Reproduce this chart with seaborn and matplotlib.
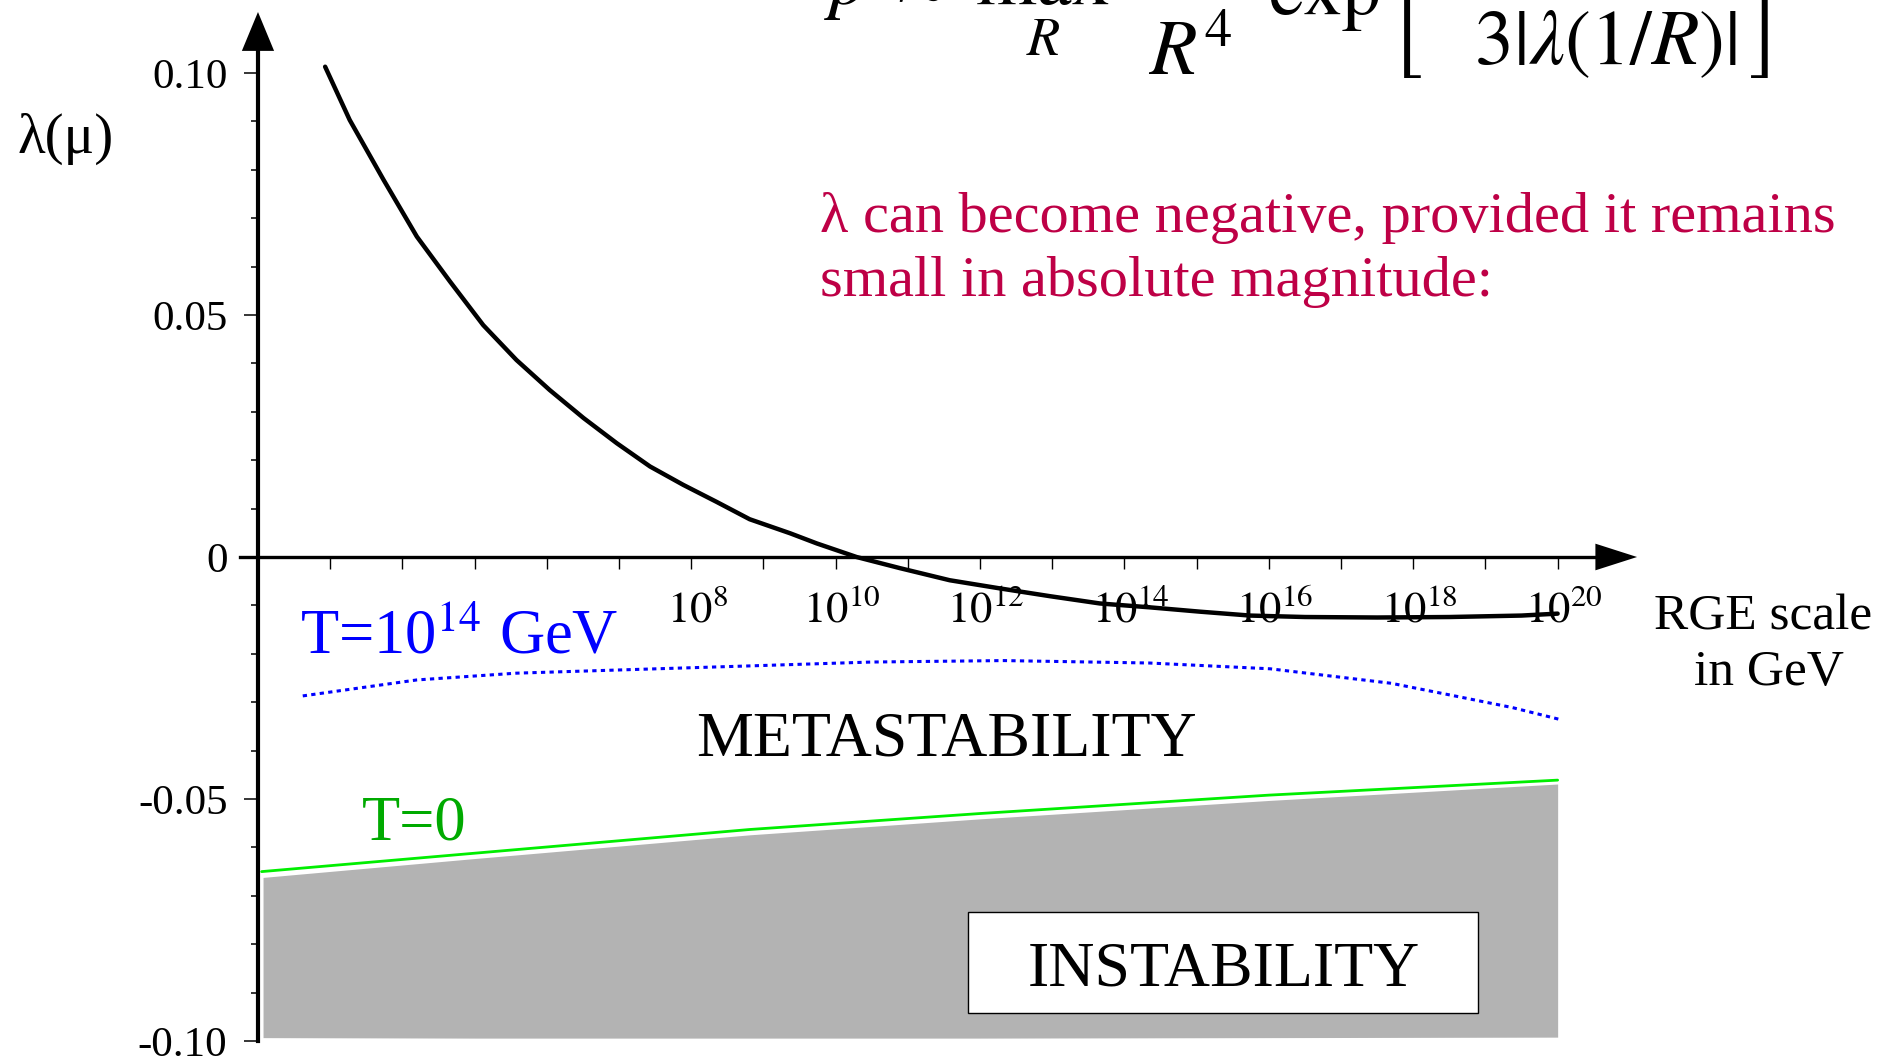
import matplotlib
matplotlib.use('Agg')
import matplotlib.pyplot as plt
import matplotlib.transforms as mtransforms
from matplotlib.patches import Rectangle
import seaborn as sns

# x values are log10 of the RGE scale in GeV
lam_logmu = [2.93, 3.27, 3.74, 4.20, 4.66, 5.12, 5.58, 6.04, 6.51, 6.97, 7.43, 7.89, 8.35,
             8.81, 9.37, 9.74, 10.29, 10.89, 11.58, 12.28, 12.97, 13.66, 14.35, 15.05, 15.74,
             16.5, 17.5, 18.5, 19.5, 20.0]
lam_vals = [0.1013, 0.0903, 0.0779, 0.0662, 0.0569, 0.0479, 0.0407, 0.0345, 0.0287, 0.0235,
            0.0187, 0.0149, 0.0114, 0.0078, 0.0049, 0.0028, 0.0, -0.0023, -0.0048, -0.0065,
            -0.0081, -0.0096, -0.0104, -0.0113, -0.0121, -0.0124, -0.0125, -0.0124, -0.0121,
            -0.0117]

t14_logmu = [2.62, 4.2, 5.58, 8.81, 10.5, 12.33, 14.34, 16.02, 17.7, 18.54, 19.37, 20.04]
t14_vals = [-0.0287, -0.0254, -0.0240, -0.0225, -0.0217, -0.0214, -0.0219, -0.0231, -0.0261,
            -0.0286, -0.0311, -0.0336]

t0_logmu = [2.05, 5.0, 8.81, 12.0, 16.0, 20.0]
t0_vals = [-0.0650, -0.0612, -0.0563, -0.0530, -0.0492, -0.0461]

instab_logmu = [2.07, 5.0, 8.81, 12.0, 16.0, 20.0]
instab_top = [-0.0662, -0.0623, -0.0574, -0.0541, -0.0503, -0.0469]
instab_bottom = [-0.0993, -0.0994, -0.0994, -0.0994, -0.0993, -0.0992]

x_tick_pos = [2, 3, 4, 5, 6, 7, 8, 9, 10, 11, 12, 13, 14, 15, 16, 17, 18, 19, 20]
x_tick_labels = ['', '', '', '', '', '', r'$10^{8}$', '', r'$10^{10}$', '', r'$10^{12}$', '',
                 r'$10^{14}$', '', r'$10^{16}$', '', r'$10^{18}$', '', r'$10^{20}$']
y_tick_pos = [-0.10, -0.05, 0.0, 0.05, 0.10]
y_tick_labels = ['-0.10', '-0.05', '0', '0.05', '0.10']
y_minor_pos = [-0.09, -0.08, -0.07, -0.06, -0.04, -0.03, -0.02, -0.01,
               0.01, 0.02, 0.03, 0.04, 0.06, 0.07, 0.08, 0.09]

W, H = 1897, 1058

sns.set_theme(style='white')
plt.rcParams['font.family'] = ['Liberation Serif', 'DejaVu Serif']
plt.rcParams['mathtext.fontset'] = 'stix'


def fpos(px, py):
    return px / W, 1 - py / H


fig = plt.figure(figsize=(W / 100, H / 100), dpi=100)
ax = fig.add_axes([0, 0, 1, 1])
ax.set_facecolor('white')
ax.set_xlim(-1.573, 24.70)
ax.set_ylim(-0.10351, 0.11508)

# instability region and the curves
ax.fill_between(instab_logmu, instab_top, instab_bottom, color='#b3b3b3', lw=0, zorder=1)
sns.lineplot(x=t0_logmu, y=t0_vals, ax=ax, color='#00ee00', linewidth=2.0,
             sort=False, estimator=None, zorder=3)
sns.lineplot(x=t14_logmu, y=t14_vals, ax=ax, color='#0000ff', linewidth=2.2,
             linestyle=(0, (1.4, 1.4)), sort=False, estimator=None, zorder=3)
sns.lineplot(x=lam_logmu, y=lam_vals, ax=ax, color='black', linewidth=3.2,
             sort=False, estimator=None, zorder=4)

# axes through the origin
for s in ['top', 'right']:
    ax.spines[s].set_visible(False)
ax.spines['left'].set_position(('data', 2))
ax.spines['bottom'].set_position(('data', 0))
ax.spines['left'].set_bounds(-0.10, 0.105)
ax.spines['bottom'].set_bounds(1.75, 20.6)
ax.spines['left'].set_linewidth(3.0)
ax.spines['bottom'].set_linewidth(2.4)
ax.spines['left'].set_color('black')
ax.spines['bottom'].set_color('black')
ax.set_xlabel('')
ax.set_ylabel('')

ax.set_xticks(x_tick_pos)
ax.set_xticklabels(x_tick_labels, fontsize=32)
ax.set_yticks(y_tick_pos)
ax.set_yticklabels(y_tick_labels, fontsize=31)
ax.set_yticks(y_minor_pos, minor=True)
ax.tick_params(axis='x', which='major', bottom=True, direction='out', length=8.6, width=1.0,
               color='black', pad=15, labelcolor='black')
ax.tick_params(axis='y', which='major', left=True, direction='out', length=10, width=1.1,
               color='black', pad=12, labelcolor='black')
ax.tick_params(axis='y', which='minor', left=True, direction='out', length=5, width=1.1,
               color='black')
shift = mtransforms.ScaledTranslation(6 / 100, 0, fig.dpi_scale_trans)
for lab in ax.get_xticklabels():
    lab.set_transform(lab.get_transform() + shift)

# arrow heads
ax.annotate('', xy=(2, 0.1126), xytext=(2, 0.104),
            arrowprops=dict(arrowstyle='-|>,head_length=1.4,head_width=0.58',
                            mutation_scale=20, color='black', lw=0, shrinkA=0, shrinkB=0))
ax.annotate('', xy=(21.1, 0), xytext=(20.5, 0),
            arrowprops=dict(arrowstyle='-|>,head_length=1.5,head_width=0.48',
                            mutation_scale=20, color='black', lw=0, shrinkA=0, shrinkB=0))

# labels
fig.text(*fpos(66, 139), 'λ(μ)', fontsize=41, ha='center', va='center', color='black')
fig.text(*fpos(1763, 629), 'RGE scale', fontsize=37, ha='center', va='baseline', color='black')
fig.text(*fpos(1769, 685), 'in GeV', fontsize=37, ha='center', va='baseline', color='black')

red = '#be0046'
fig.text(*fpos(820, 232), 'λ can become negative, provided it remains', fontsize=42,
         ha='left', va='baseline', color=red)
fig.text(*fpos(820, 296), 'small in absolute magnitude:', fontsize=42,
         ha='left', va='baseline', color=red)

fig.text(*fpos(300, 653), r'T=10$^{14}$ GeV', fontsize=45, ha='left', va='baseline',
         color='#0000ff')
fig.text(*fpos(946, 756), 'METASTABILITY', fontsize=46, ha='center', va='baseline',
         color='black')
fig.text(*fpos(362, 840), 'T=0', fontsize=45, ha='left', va='baseline', color='#00aa00')

ax.add_patch(Rectangle((11.83, -0.0942), 18.9 - 11.83, 0.0209, facecolor='white',
                       edgecolor='black', lw=1.0, zorder=5))
fig.text(*fpos(1224, 986), 'INSTABILITY', fontsize=46, ha='center', va='baseline',
         color='black', zorder=6)

# formula, cut off by the top edge (fraction bars lie above the picture)
fig.text(*fpos(824, 4), r'$p\;\approx\;\max_R$', fontsize=56, ha='left', va='baseline',
         color='black')
fig.text(*fpos(1193, 15), r'$\genfrac{}{}{0}{0}{V_U}{R^4}$', fontsize=56, ha='center',
         va='baseline', color='black')
fig.text(*fpos(1769, 15),
         r'$\exp\left[-\genfrac{}{}{0}{0}{8\pi^2}{3|\lambda(1/R)|}\right]$',
         fontsize=56, ha='right', va='baseline', color='black')

fig.savefig('out.png', dpi=100)
